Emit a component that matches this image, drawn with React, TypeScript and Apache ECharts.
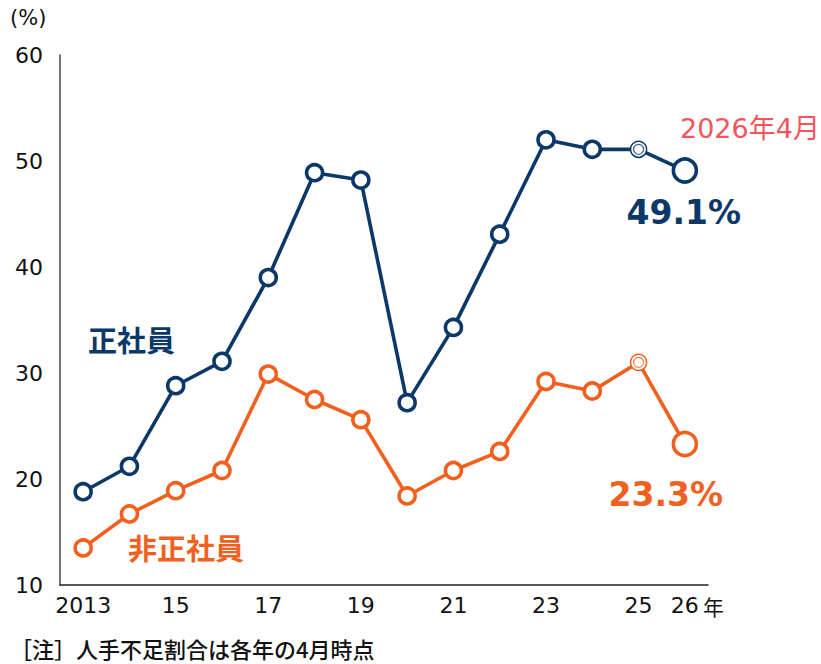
import React, { useEffect, useRef } from "react";
import * as echarts from "echarts";

const years = ["2013","2014","2015","2016","2017","2018","2019","2020","2021","2022","2023","2024","2025","2026"];
const regular = [18.8, 21.2, 28.8, 31.1, 39.0, 48.9, 48.2, 27.2, 34.3, 43.1, 52.0, 51.1, 51.1, 49.1];
const nonRegular = [13.5, 16.7, 18.9, 20.8, 29.9, 27.5, 25.6, 18.4, 20.8, 22.6, 29.2, 28.3, 31.0, 23.3];
const yTicks = { min: 10, max: 60, interval: 10 };

const BLUE = "#0b3868";
const ORANGE = "#f2601f";
const RED = "#f4545a";
const NUM_FONT = "'DejaVu Sans', 'Noto Sans CJK JP', sans-serif";
const CJK_FONT = "'Noto Sans CJK JP', 'DejaVu Sans', sans-serif";

function buildData(values: number[], lastLabel: any) {
  const n = values.length;
  return values.map((v, i) => {
    if (i === n - 1) {
      return { value: v, symbolSize: 23, label: lastLabel };
    }
    if (i === n - 2) {
      return { value: v, itemStyle: { borderWidth: 1.5 } };
    }
    return v;
  });
}

export default function App() {
  const ref = useRef<HTMLDivElement>(null);
  useEffect(() => {
    if (!ref.current) return;
    const chart = echarts.init(ref.current, null, { renderer: "svg" });
    const n = years.length;
    const lineSeries = (name: string, values: number[], color: string, lastLabel: any) => ({
      name,
      type: "line",
      data: buildData(values, lastLabel),
      symbol: "circle",
      symbolSize: 16,
      lineStyle: { color, width: 3.6 },
      itemStyle: { color: "#ffffff", borderColor: color, borderWidth: 3.6 },
      z: 3,
    });
    const innerRing = (values: number[], color: string) => ({
      type: "scatter",
      data: values.map((v, i) => (i === n - 2 ? v : "-")),
      symbol: "circle",
      symbolSize: 10,
      itemStyle: { color: "#ffffff", borderColor: color, borderWidth: 1.2 },
      z: 4,
      silent: true,
    });
    const endLabel = (text: string, color: string, offset: number[]) => ({
      show: true,
      position: "inside",
      offset,
      formatter: text,
      color,
      fontSize: 33,
      fontWeight: "bold",
      fontFamily: NUM_FONT,
    });
    chart.setOption({
      animation: false,
      grid: { left: 60, right: 113, top: 55, bottom: 79, containLabel: false },
      xAxis: {
        type: "category",
        data: years,
        boundaryGap: true,
        axisLine: { lineStyle: { color: "#222", width: 1.5 } },
        axisTick: { show: false },
        axisLabel: {
          interval: (i: number) => i % 2 === 0 || i === n - 1,
          formatter: (v: string, i: number) => (i === 0 ? v : v.slice(2)),
          color: "#111",
          fontSize: 22,
          fontFamily: NUM_FONT,
          margin: 9,
        },
      },
      yAxis: {
        type: "value",
        min: yTicks.min,
        max: yTicks.max,
        interval: yTicks.interval,
        axisLine: { show: true, lineStyle: { color: "#444", width: 1.5 } },
        axisTick: { show: false },
        splitLine: { show: false },
        axisLabel: {
          color: "#111",
          fontSize: 22,
          fontFamily: NUM_FONT,
          margin: 17,
        },
      },
      series: [
        lineSeries("正社員", regular, BLUE, endLabel("49.1%", BLUE, [-1, 42])),
        lineSeries("非正社員", nonRegular, ORANGE, endLabel("23.3%", ORANGE, [-19, 50])),
        innerRing(regular, BLUE),
        innerRing(nonRegular, ORANGE),
      ],
      graphic: [
        { type: "text", x: 10, y: 18, style: { text: "(%)", fontSize: 21, fill: "#111", fontFamily: NUM_FONT, align: "left", verticalAlign: "middle" } },
        { type: "text", x: 88, y: 339, style: { text: "正社員", fontSize: 29, fontWeight: "bold", fill: BLUE, fontFamily: CJK_FONT, align: "left", verticalAlign: "middle" } },
        { type: "text", x: 128, y: 547, style: { text: "非正社員", fontSize: 29, fontWeight: "bold", fill: ORANGE, fontFamily: CJK_FONT, align: "left", verticalAlign: "middle" } },
        { type: "text", x: 680, y: 128, style: { text: "2026年4月", fontSize: 27, fill: RED, fontFamily: NUM_FONT, align: "left", verticalAlign: "middle" } },
        { type: "text", x: 703, y: 606, style: { text: "年", fontSize: 21, fill: "#111", fontFamily: CJK_FONT, align: "left", verticalAlign: "middle" } },
        { type: "text", x: 10, y: 648, style: { text: "［注］人手不足割合は各年の4月時点", fontSize: 22, fontWeight: 500, fill: "#111", fontFamily: CJK_FONT, align: "left", verticalAlign: "middle" } },
      ],
    });
    return () => chart.dispose();
  }, []);
  return <div ref={ref} style={{ width: 821, height: 664, position: "absolute", left: 0, top: 0 }} />;
}
